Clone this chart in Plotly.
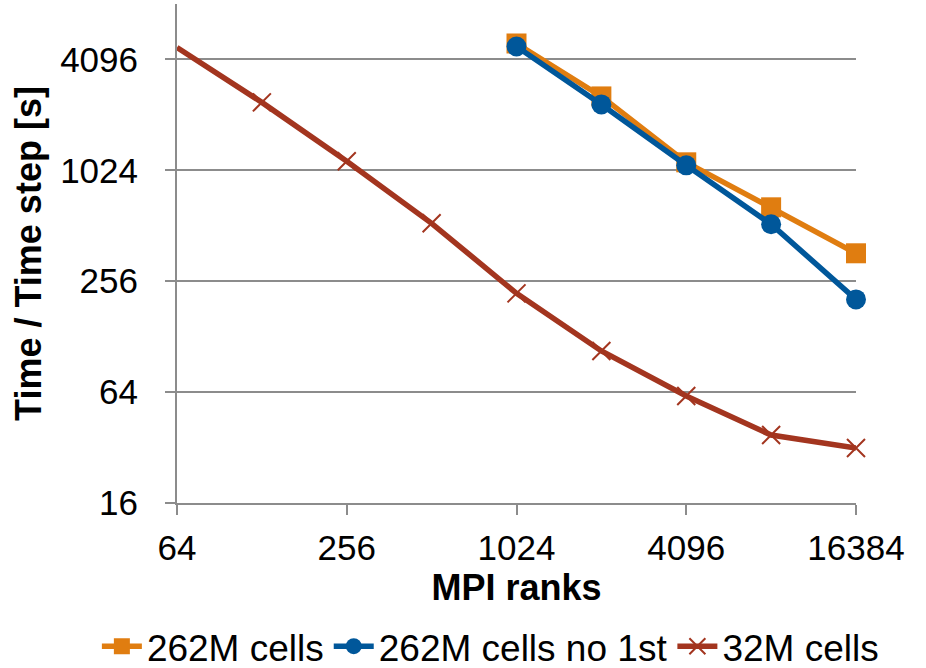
import plotly.graph_objects as go
import math

ranks_262 = [1024, 2048, 4096, 8192, 16384]
time_262 = [5000, 2580, 1132, 645, 363]
time_262_no1st = [4817, 2335, 1090, 522, 204]
ranks_32 = [64, 128, 256, 512, 1024, 2048, 4096, 8192, 16384]
time_32 = [4756, 2394, 1146, 528, 220, 107, 61, 37.4, 31.8]

x_ticks = [64, 256, 1024, 4096, 16384]
y_ticks = [16, 64, 256, 1024, 4096]

ORANGE = "#E07D10"
BLUE = "#00579A"
RED = "#A3351F"
GRID = "#8C8C8C"
FONT = "Liberation Sans, Arial, sans-serif"

fig = go.Figure()
fig.add_trace(go.Scatter(x=ranks_262, y=time_262, name="262M cells", mode="lines+markers",
                         line=dict(color=ORANGE, width=5.5),
                         marker=dict(symbol="square", size=20, color=ORANGE), cliponaxis=False))
fig.add_trace(go.Scatter(x=ranks_262, y=time_262_no1st, name="262M cells no 1st", mode="lines+markers",
                         line=dict(color=BLUE, width=5.5),
                         marker=dict(symbol="circle", size=20, color=BLUE), cliponaxis=False))
fig.add_trace(go.Scatter(x=ranks_32, y=time_32, name="32M cells", mode="lines+markers",
                         line=dict(color=RED, width=5.5),
                         marker=dict(symbol="x-thin", size=18, color=RED,
                                     line=dict(color=RED, width=2)), cliponaxis=False))

fig.update_layout(
    width=926, height=668,
    margin=dict(l=177, r=70, t=3.5, b=165, autoexpand=False),
    paper_bgcolor="white", plot_bgcolor="white",
    font=dict(family=FONT, size=35, color="black"),
    showlegend=True,
    legend=dict(orientation="h",
                x=-0.118, xanchor="left", y=-0.35, yanchor="bottom",
                font=dict(size=37), itemwidth=40, tracegroupgap=0,
                bgcolor="rgba(0,0,0,0)"),
)
fig.update_xaxes(
    type="log", range=[math.log10(64), math.log10(16384)],
    tickvals=x_ticks, ticktext=[str(v) for v in x_ticks],
    showgrid=False, showline=True, linecolor=GRID, linewidth=2,
    ticks="outside", ticklen=10, tickwidth=2, tickcolor=GRID,
    ticklabelstandoff=3,
    zeroline=False,
    title=dict(text="<b>MPI ranks</b>", font=dict(size=36), standoff=4),
)
fig.update_yaxes(
    type="log", range=[math.log10(16), math.log10(8192)],
    tickvals=y_ticks, ticktext=[str(v) for v in y_ticks],
    showgrid=True, gridcolor=GRID, gridwidth=2,
    showline=True, linecolor=GRID, linewidth=2,
    ticks="outside", ticklen=10, tickwidth=2, tickcolor=GRID,
    ticklabelstandoff=20,
    zeroline=False,
    title=dict(text="<b>Time / Time step [s]</b>", font=dict(size=36), standoff=8),
)

fig.write_html("out.html")
